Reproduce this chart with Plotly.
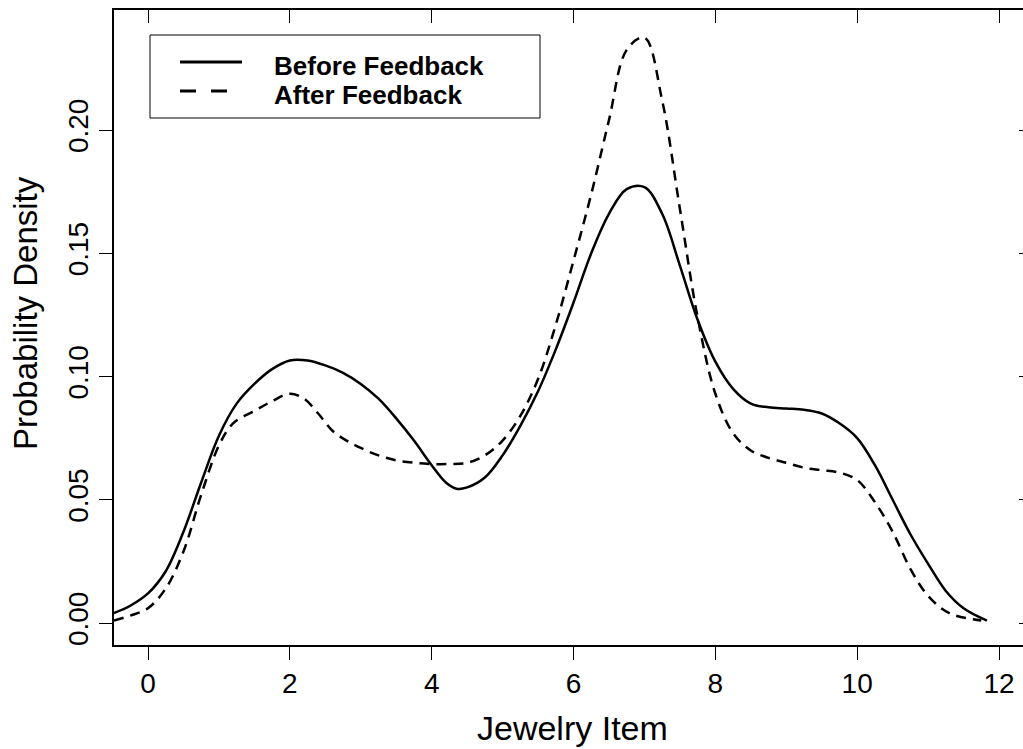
import plotly.graph_objects as go

# ---------------- data ----------------
before_x = [-0.48, -0.25, 0.0, 0.25, 0.5, 0.75, 1.0, 1.25, 1.5, 1.75, 2.0, 2.25, 2.5, 2.75,
            3.0, 3.25, 3.5, 3.75, 4.0, 4.2, 4.35, 4.5, 4.75, 5.0, 5.25, 5.5, 5.75, 6.0,
            6.25, 6.5, 6.75, 7.0, 7.25, 7.5, 7.75, 8.0, 8.25, 8.5, 8.75,
            9.0, 9.25, 9.5, 9.75, 10.0, 10.25, 10.5, 10.75, 11.0, 11.25, 11.5, 11.83]
before_y = [0.004, 0.007, 0.012, 0.021, 0.037, 0.057, 0.076, 0.089, 0.097, 0.103, 0.1065, 0.1065,
            0.1045, 0.1015, 0.097, 0.091, 0.083, 0.074, 0.064, 0.057, 0.0545, 0.055, 0.059,
            0.068, 0.080, 0.094, 0.111, 0.130, 0.150, 0.166, 0.1760, 0.1768,
            0.166, 0.145, 0.123, 0.106, 0.095, 0.089, 0.0875, 0.087, 0.0865, 0.085,
            0.081, 0.075, 0.064, 0.050, 0.036, 0.024, 0.013, 0.006, 0.001]

after_x = [-0.48, -0.25, 0.0, 0.25, 0.5, 0.75, 1.0, 1.2, 1.5, 1.75, 2.0, 2.2, 2.4, 2.6, 2.8,
           3.0, 3.25, 3.5, 3.75, 4.0, 4.25, 4.5, 4.75, 5.0, 5.25, 5.5, 5.75, 6.0, 6.25,
           6.5, 6.75, 7.0, 7.25, 7.5, 7.75, 8.0, 8.25,
           8.5, 8.75, 9.0, 9.25, 9.5, 9.75, 10.0, 10.25, 10.5, 10.75, 11.0, 11.3, 11.75]
after_y = [0.001, 0.003, 0.006, 0.014, 0.029, 0.052, 0.072, 0.081, 0.086, 0.090, 0.093, 0.091,
           0.085, 0.078, 0.074, 0.071, 0.068, 0.066, 0.065, 0.0645, 0.0645, 0.065, 0.068,
           0.074, 0.084, 0.099, 0.121, 0.147, 0.174, 0.204, 0.2325, 0.2375, 0.212,
           0.168, 0.124, 0.093, 0.077, 0.070, 0.067, 0.065,
           0.063, 0.062, 0.061, 0.058, 0.049, 0.037, 0.022, 0.011, 0.004, 0.001]

x_ticks = [0, 2, 4, 6, 8, 10, 12]
y_ticks = [0.00, 0.05, 0.10, 0.15, 0.20]
y_tick_text = ["0.00", "0.05", "0.10", "0.15", "0.20"]
series_names = ["Before Feedback", "After Feedback"]
x_title = "Jewelry Item"
y_title = "Probability Density"

# ---------------- layout geometry ----------------
W, H = 1023, 749
ML, MR, MT, MB = 114, 0, 10, 104
PW, PH = W - ML - MR, H - MT - MB
FONT = "Liberation Sans, Arial, Helvetica, sans-serif"


def px_x(p):
    return (p - ML) / PW


def px_y(p):
    return (H - MB - p) / PH


fig = go.Figure()
fig.add_trace(go.Scatter(x=before_x, y=before_y, mode="lines", name=series_names[0],
                         line=dict(color="black", width=2.5, shape="spline", smoothing=1.0)))
fig.add_trace(go.Scatter(x=after_x, y=after_y, mode="lines", name=series_names[1],
                         line=dict(color="black", width=2.5, dash="10px,7px",
                                   shape="spline", smoothing=1.0)))
# invisible trace to activate the mirror axes (top ticks / right ticks)
fig.add_trace(go.Scatter(x=[None], y=[None], xaxis="x2", yaxis="y2",
                         showlegend=False, hoverinfo="skip"))

x_range = [-0.4794, 12.338]
y_range = [-0.008925, 0.24868]

fig.update_layout(
    width=W, height=H,
    margin=dict(l=ML, r=MR, t=MT, b=MB, pad=0),
    paper_bgcolor="white", plot_bgcolor="white",
    showlegend=False,
    font=dict(family=FONT, color="black"),
    xaxis=dict(range=x_range, tickvals=x_ticks, ticks="outside", ticklen=13,
               tickwidth=1, tickcolor="black", showline=True, linecolor="black",
               linewidth=1.5, showgrid=False, zeroline=False,
               tickfont=dict(size=28, family=FONT, color="black")),
    yaxis=dict(range=y_range, tickvals=y_ticks, ticktext=y_tick_text, ticks="outside",
               ticklen=13, tickwidth=1, tickcolor="black", showline=True,
               linecolor="black", linewidth=1.5, showgrid=False, zeroline=False,
               tickangle=-90, tickfont=dict(size=28, family=FONT, color="black")),
    xaxis2=dict(range=x_range, overlaying="x", side="top", tickvals=x_ticks,
                ticks="inside", ticklen=13, tickwidth=1, tickcolor="black",
                showticklabels=False, showline=True, linecolor="black", linewidth=1.5,
                showgrid=False, zeroline=False),
    yaxis2=dict(range=y_range, overlaying="y", side="right", tickvals=y_ticks,
                ticks="inside", ticklen=4, tickwidth=1, tickcolor="black",
                showticklabels=False, showline=False, showgrid=False, zeroline=False),
)

# axis titles
fig.add_annotation(text=x_title, xref="paper", yref="paper", x=px_x(572), y=px_y(728),
                   xanchor="center", yanchor="middle", showarrow=False,
                   font=dict(size=34, family=FONT, color="black"))
fig.add_annotation(text=y_title, xref="paper", yref="paper", x=px_x(26), y=px_y(313),
                   xanchor="center", yanchor="middle", showarrow=False, textangle=-90,
                   font=dict(size=33, family=FONT, color="black"))

# legend box (drawn manually to match the reference layout)
fig.add_shape(type="rect", xref="paper", yref="paper", x0=px_x(150), x1=px_x(540),
              y0=px_y(118), y1=px_y(35), line=dict(color="black", width=1),
              fillcolor="white", layer="above")
fig.add_shape(type="line", xref="paper", yref="paper", x0=px_x(180), x1=px_x(242),
              y0=px_y(62), y1=px_y(62), line=dict(color="black", width=3.2))
fig.add_shape(type="line", xref="paper", yref="paper", x0=px_x(180), x1=px_x(228),
              y0=px_y(91), y1=px_y(91), line=dict(color="black", width=3.2, dash="16px,15px"))
fig.add_annotation(text="<b>%s</b>" % series_names[0], xref="paper", yref="paper",
                   x=px_x(272), y=px_y(66), xanchor="left", yanchor="middle",
                   showarrow=False, font=dict(size=26, family=FONT, color="black"))
fig.add_annotation(text="<b>%s</b>" % series_names[1], xref="paper", yref="paper",
                   x=px_x(272), y=px_y(95), xanchor="left", yanchor="middle",
                   showarrow=False, font=dict(size=26, family=FONT, color="black"))

fig.write_html("out.html")
